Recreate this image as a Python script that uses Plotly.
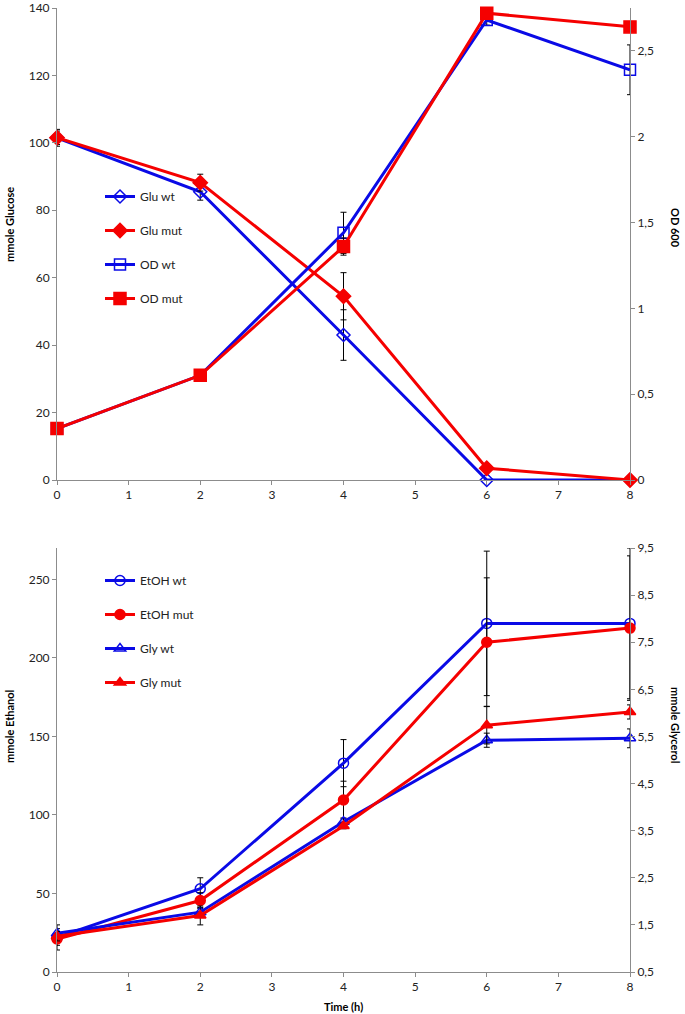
import plotly.graph_objects as go

# Data
time = [0, 2, 4, 6, 8]

glu_wt = [101.5, 85.5, 43.0, 0.0, 0.0]
glu_wt_err = [2.5, 2.5, 7.5, 0.0, 0.0]
glu_mut = [101.5, 88.2, 54.5, 3.5, 0.0]
glu_mut_err = [2.0, 2.5, 7.0, 0.0, 0.0]
od_wt = [0.30, 0.61, 1.44, 2.68, 2.39]
od_wt_err = [0.01, 0.01, 0.12, 0.03, 0.145]
od_mut = [0.30, 0.61, 1.36, 2.72, 2.64]
od_mut_err = [0.01, 0.01, 0.05, 0.01, 0.02]

etoh_wt = [22, 53, 133, 222, 222]
etoh_wt_err = [8, 7, 15, 46, 48]
etoh_mut = [21, 45.5, 109.5, 210, 219]
etoh_mut_err = [4, 5, 12, 41, 46]
gly_wt = [1.32, 1.77, 3.69, 5.42, 5.46]
gly_wt_err = [0.1, 0.1, 0.08, 0.15, 0.2]
gly_mut = [1.26, 1.70, 3.60, 5.74, 6.02]
gly_mut_err = [0.1, 0.2, 0.06, 0.4, 0.15]

BLUE = 'rgb(10,10,230)'
RED = 'rgb(245,0,0)'
AXC = '#8c8c8c'
FONT = 'Lato'

fig = go.Figure()

def add(name, x, y, err, color, symbol, size, xa, ya, legend, group):
    fig.add_trace(go.Scatter(
        x=x, y=y, name=name, mode='lines+markers',
        line=dict(color=color, width=3),
        marker=dict(symbol=symbol, size=size, color=color,
                    line=dict(color=color, width=1.5)),
        error_y=dict(type='data', array=err, color='black', thickness=1, width=3),
        xaxis=xa, yaxis=ya, legend=legend, legendgroup=group,
        cliponaxis=False,
    ))

# top panel
add('Glu wt', time, glu_wt, glu_wt_err, BLUE, 'diamond-open', 10, 'x', 'y', 'legend', 'a')
add('Glu mut', time, glu_mut, glu_mut_err, RED, 'diamond', 11, 'x', 'y', 'legend', 'b')
add('OD wt', time, od_wt, od_wt_err, BLUE, 'square-open', 11, 'x', 'y2', 'legend', 'c')
add('OD mut', time, od_mut, od_mut_err, RED, 'square', 12, 'x', 'y2', 'legend', 'd')
# bottom panel
add('EtOH wt', time, etoh_wt, etoh_wt_err, BLUE, 'circle-open', 10, 'x2', 'y3', 'legend2', 'e')
add('EtOH mut', time, etoh_mut, etoh_mut_err, RED, 'circle', 10, 'x2', 'y3', 'legend2', 'f')
add('Gly wt', time, gly_wt, gly_wt_err, BLUE, 'triangle-up-open', 10, 'x2', 'y4', 'legend2', 'g')
add('Gly mut', time, gly_mut, gly_mut_err, RED, 'triangle-up', 10, 'x2', 'y4', 'legend2', 'h')

W, H = 685, 1014
xdom = [57 / W, 630 / W]
top_dom = [1 - 480 / H, 1 - 8 / H]
bot_dom = [1 - 972 / H, 1 - 548 / H]

ax = dict(showline=True, linecolor=AXC, linewidth=1, ticks='outside', ticklen=4,
          tickcolor=AXC, showgrid=False, zeroline=False, automargin=False,
          ticklabeloverflow='allow',
          tickfont=dict(family=FONT, size=12, color='#222'))

fig.update_layout(
    width=W, height=H, margin=dict(l=0, r=0, t=0, b=0),
    plot_bgcolor='white', paper_bgcolor='white',
    separators=',.',
    font=dict(family=FONT, size=12, color='#222'),
    xaxis=dict(ax, domain=xdom, anchor='y', range=[0, 8], dtick=1),
    yaxis=dict(ax, domain=top_dom, anchor='x', range=[0, 140], dtick=20),
    yaxis2=dict(ax, overlaying='y', side='right', anchor='x', range=[0, 2.75], dtick=0.5),
    xaxis2=dict(ax, domain=xdom, anchor='y3', range=[0, 8], dtick=1),
    yaxis3=dict(ax, domain=bot_dom, anchor='x2', range=[0, 270], dtick=50),
    yaxis4=dict(ax, overlaying='y3', side='right', anchor='x2', range=[0.5, 9.5],
                tick0=0.5, dtick=1),
    legend=dict(x=100 / W, y=1 - 182 / H, xanchor='left', yanchor='top',
                bgcolor='rgba(0,0,0,0)', traceorder='grouped', tracegroupgap=15,
                itemwidth=30, font=dict(family=FONT, size=12)),
    legend2=dict(x=100 / W, y=1 - 566 / H, xanchor='left', yanchor='top',
                 bgcolor='rgba(0,0,0,0)', traceorder='grouped', tracegroupgap=15,
                 itemwidth=30, font=dict(family=FONT, size=12)),
)

title_font = dict(family=FONT, size=11, color='black', weight='bold')
for text, x, y, ang in [('mmole Glucose', 9, 225, -90), ('OD 600', 676, 228, 90),
                        ('mmole Ethanol', 9, 726, -90), ('mmole Glycerol', 676, 725, 90),
                        ('Time (h)', 343, 1006, 0)]:
    fig.add_annotation(text=text, x=x / W, y=1 - y / H, xref='paper', yref='paper',
                       showarrow=False, textangle=ang, font=title_font,
                       xanchor='center', yanchor='middle')

# page body has a default 8px margin; drop it so the figure fills the window
fig.write_html("out.html", config={'displayModeBar': False},
               post_script="document.body.style.margin='0';")
